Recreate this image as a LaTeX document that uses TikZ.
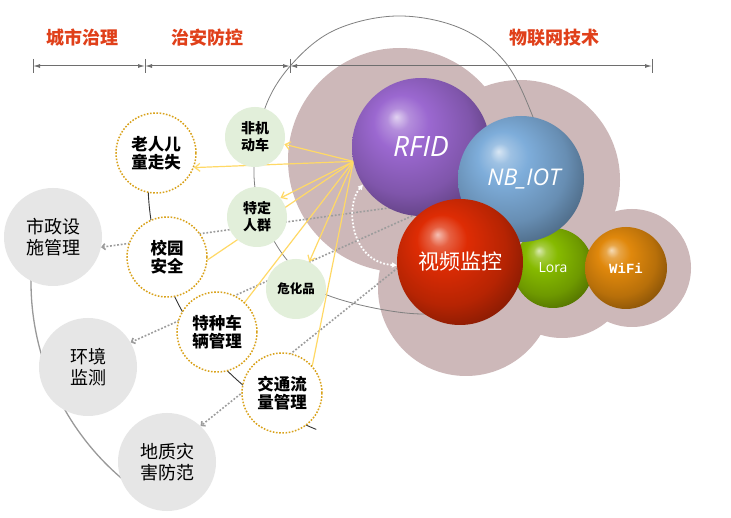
\documentclass[tikz,border=0pt]{standalone}
\usepackage{fontspec}
\setmainfont{Liberation Sans}
\newfontfamily\cjk{Noto Sans CJK SC}
\newfontfamily\latinfont{Open Sans}
\newfontfamily\monofont{Liberation Mono}
\usetikzlibrary{arrows.meta}
\definecolor{headred}{HTML}{E0401A}
\definecolor{dimgray}{HTML}{6E6E6E}
\definecolor{blobcol}{HTML}{CDB8B9}
\definecolor{graycirc}{HTML}{E6E6E6}
\definecolor{greencirc}{HTML}{E2EFDA}
\definecolor{goldcol}{HTML}{D9A21B}
\definecolor{yelcol}{HTML}{FFD966}
\definecolor{dotgray}{HTML}{9C9C9C}
\definecolor{rfidcol}{HTML}{9B68D0}
\definecolor{nbcol}{HTML}{7EADDA}
\definecolor{videocol}{HTML}{DE2C04}
\definecolor{loracol}{HTML}{86BA00}
\definecolor{wificol}{HTML}{E0880C}
\colorlet{spherecol}{gray}
\pgfdeclareradialshading[spherecol]{sphere}{\pgfpoint{-9bp}{11bp}}{%
  color(0bp)=(spherecol!30!white);
  color(4bp)=(spherecol!75!white);
  color(10bp)=(spherecol);
  color(23bp)=(spherecol!82!black);
  color(36bp)=(spherecol!50!black);
  color(50bp)=(spherecol!50!black)}
\pgfdeclarelayer{bg}
\pgfsetlayers{bg,main}
\begin{document}
\begin{tikzpicture}[x=1pt,y=-1pt,line join=round,
  headtext/.style={text=headred,font=\cjk\bfseries\fontsize{18}{18}\selectfont},
  dimline/.style={draw=dimgray,line width=1pt,arrows={Latex[length=7pt,width=4pt]-Latex[length=7pt,width=4pt]}},
  ballof/.code={\colorlet{spherecol}{#1}},
  sphere/.style={circle,inner sep=0pt,minimum size=#1,shade,shading=sphere,text=white},
  govnode/.style={circle,fill=graycirc,minimum size=98pt,inner sep=0pt,align=center,font=\cjk\fontsize{18}{21}\selectfont},
  secnode/.style={circle,fill=white,draw=goldcol,line width=1.5pt,dash pattern=on 1.6pt off 1.6pt,minimum size=80pt,inner sep=0pt,align=center,font=\cjk\bfseries\fontsize{16.5}{18.5}\selectfont},
  objnode/.style={circle,fill=greencirc,minimum size=60pt,inner sep=0pt,align=center,font=\cjk\bfseries\fontsize{14}{17}\selectfont},
  yline/.style={draw=yelcol,line width=1.2pt},
  yarrow/.style={yline,-{Straight Barb[length=5pt,width=8pt]}},
  dotline/.style={draw=dotgray,line width=1.6pt,dash pattern=on 1.8pt off 1.8pt,-{Straight Barb[length=3pt,width=6pt]}},
  whitearc/.style={draw=white,line width=1.8pt,dash pattern=on 1.8pt off 1.8pt,{Triangle[length=5pt,width=5pt]}-{Triangle[length=5pt,width=5pt]}}]
\useasboundingbox (0,0) rectangle (731,518);

\node[headtext] (hcity) at (82,38) {城市治理};
\node[headtext] (hsafe) at (207,38) {治安防控};
\node[headtext] (hiot) at (554,38) {物联网技术};
\coordinate (d0) at (33,66);
\coordinate (d1) at (145,66);
\coordinate (d2) at (290,66);
\coordinate (d3) at (652,66);
\draw[dimline] (d0) -- (d1);
\draw[dimline] (d1) -- (d2);
\draw[dimline] (d2) -- (d3);
\foreach \p in {d0,d1,d2,d3}
  \draw[dimgray,line width=.8pt] (\p) ++(0,-7) -- ++(0,14);

\node[sphere=138pt,ballof=rfidcol,font=\latinfont\itshape\fontsize{28}{28}\selectfont] (rfid) at (421,147) {RFID};
\node[sphere=80pt,ballof=loracol,font=\latinfont\fontsize{14}{14}\selectfont] (lora) at (553,268) {Lora};
\node[sphere=126pt,ballof=nbcol,font=\latinfont\itshape\fontsize{23}{24}\selectfont] (nbiot) at (521,179) {\ NB\_IOT};
\node[sphere=126pt,ballof=videocol,font=\cjk\fontsize{21}{22}\selectfont] (video) at (460,262) {视频监控};
\node[sphere=82pt,ballof=wificol,font=\monofont\bfseries\fontsize{14}{14}\selectfont] (wifi) at (626,268) {WiFi};

\node[govnode] (shizheng) at (53,237) {市政设\\施管理};
\node[govnode] (huanjing) at (88,367) {环境\\监测};
\node[govnode] (dizhi) at (167,462) {地质灾\\害防范};
\node[secnode] (laoren) at (156,153) {老人儿\\童走失};
\node[secnode] (xiaoyuan) at (167,257) {校园\\安全};
\node[secnode] (tezhong) at (217,332) {特种车\\辆管理};
\node[secnode] (jiaotong) at (282,393) {交通流\\量管理};
\node[objnode] (feiji) at (255,137) {非机\\动车};
\node[objnode] (teding) at (257,217) {特定\\人群};
\node[objnode,font=\cjk\bfseries\fontsize{12.5}{14}\selectfont] (weihua) at (296,289) {危化品};

\begin{pgfonlayer}{bg}
\fill[white] (0,0) rectangle (731,518);
\fill[blobcol] (400,160) circle (112) (520,180) circle (100) (466,288) circle (88)
  (562,268) circle (70) (632,268) circle (59);
\draw[gray,line width=.8pt] plot[smooth cycle,tension=.6] coordinates {(397,16) (460,28) (505,62) (533,117)
  (548,168) (535,240) (490,295) (423,314) (327,295) (287,260) (262,215) (254,168) (265,108) (292,64) (335,30)};
\draw[gray!80,line width=1.3pt] (289,282) ++(188:258) arc[start angle=188,end angle=125,radius=258];
\draw[black!80,line width=.9pt] (417,180) ++(190:269) arc[start angle=190,end angle=112,radius=269];

\coordinate (srcA) at (440,201);
\coordinate (srcB) at (432,207);
\coordinate (srcC) at (440,234);
\draw[dotline] (srcA) -- (shizheng.-12);
\draw[dotline] (srcB) -- (huanjing.30);
\draw[dotline] (srcC) -- (dizhi.47);

\coordinate (ysrc) at (rfid.192);
\draw[yarrow] (ysrc) -- (feiji);
\draw[yarrow] (ysrc) -- (laoren.-21);
\draw[yarrow] (ysrc) -- (teding.39);
\draw[yline] (ysrc) -- (xiaoyuan.-4);
\draw[yarrow] (ysrc) -- (weihua.64);
\draw[yline] (ysrc) -- (tezhong.47);
\draw[yline] (ysrc) -- (jiaotong.42);

\draw[whitearc] (rfid.213) .. controls (345,205) and (350,262) .. (video.183);
\end{pgfonlayer}
\end{tikzpicture}
\end{document}
